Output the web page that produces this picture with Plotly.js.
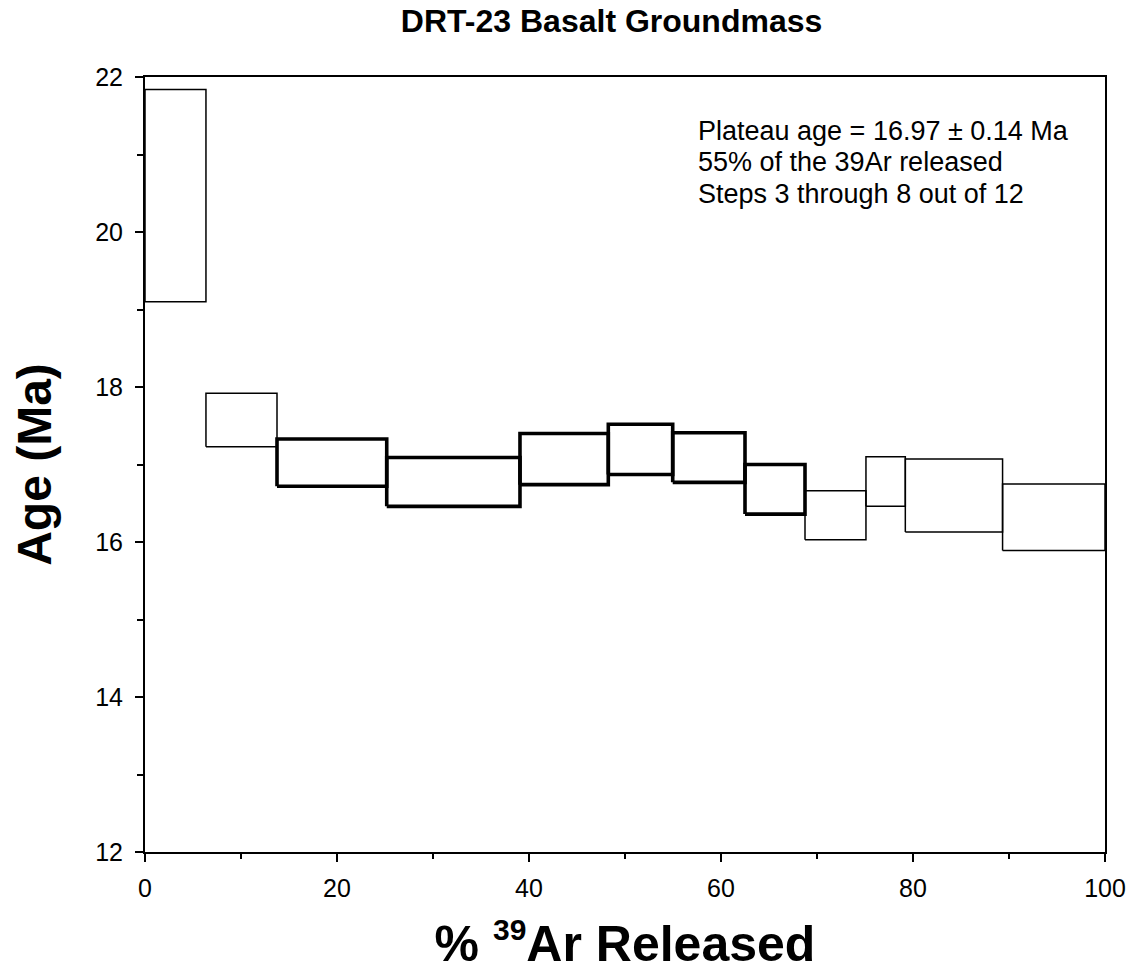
<!DOCTYPE html>
<html>
<head>
<meta charset="utf-8">
<script src="https://cdn.plot.ly/plotly-3.0.1.min.js"></script>
<style>html,body{margin:0;padding:0;background:#fff;}#chart{width:1141px;height:972px;}</style>
</head>
<body>
<div id="chart"></div>
<script>
// Cumulative % 39Ar released at step boundaries
const stepEdges = [0, 6.35, 13.75, 25.18, 39.06, 48.26, 54.97, 62.5, 68.75, 75.1, 79.2, 89.33, 100];
// Age (Ma) upper and lower bounds of each step box
const ageHigh = [21.84, 17.92, 17.33, 17.09, 17.40, 17.52, 17.41, 17.00, 16.66, 17.10, 17.07, 16.75];
const ageLow  = [19.10, 17.23, 16.72, 16.46, 16.74, 16.87, 16.77, 16.36, 16.03, 16.46, 16.13, 15.89];
const plateauSteps = [3, 4, 5, 6, 7, 8];
const xTickVals = [0, 20, 40, 60, 80, 100];
const yTickVals = [12, 14, 16, 18, 20, 22];
const titleText = 'DRT-23 Basalt Groundmass';
const noteLines = ['Plateau age = 16.97 ± 0.14 Ma', '55% of the 39Ar released', 'Steps 3 through 8 out of 12'];

const FONT = 'Liberation Sans, Arial, sans-serif';
const thin = [], bold = [];
for (let i = 0; i < ageHigh.length; i++) {
  const x0 = stepEdges[i], x1 = stepEdges[i + 1];
  const isPlateau = plateauSteps.indexOf(i + 1) >= 0;
  const tr = {
    type: 'scatter', mode: 'lines',
    x: [x0, x0, x1, x1, x0],
    y: [ageLow[i], ageHigh[i], ageHigh[i], ageLow[i], ageLow[i]],
    line: {color: '#000', width: isPlateau ? 3.6 : 1.5},
    hoverinfo: 'skip', showlegend: false
  };
  (isPlateau ? bold : thin).push(tr);
}

// one annotation per line of the note, ~31.5 px apart
const noteTopPx = [131, 162, 194];
const plotTop = 77, plotH = 775;
const annotations = noteLines.map((t, k) => ({
  xref: 'x', yref: 'paper', x: 57.4, y: 1 - (noteTopPx[k] - plotTop) / plotH,
  xanchor: 'left', yanchor: 'middle', align: 'left', showarrow: false,
  text: t, font: {family: FONT, size: 27, color: '#000'}
}));

const layout = {
  width: 1141, height: 972,
  margin: {l: 145, r: 36, t: 77, b: 120, pad: 0},
  paper_bgcolor: '#fff', plot_bgcolor: '#fff',
  font: {family: FONT, color: '#000', size: 25},
  title: {text: '<b>' + titleText + '</b>', font: {family: FONT, size: 32, color: '#000'},
          x: 0.536, xanchor: 'center', y: 0.979, yanchor: 'middle'},
  xaxis: {
    range: [0, 100], tickvals: xTickVals, ticktext: xTickVals.map(String),
    showgrid: false, zeroline: false,
    showline: true, linecolor: '#000', linewidth: 2, mirror: true,
    ticks: 'outside', ticklen: 8, tickwidth: 2, tickcolor: '#000',
    minor: {dtick: 10, tick0: 0, ticks: 'outside', ticklen: 5, tickwidth: 2, tickcolor: '#000', showgrid: false},
    tickfont: {family: FONT, size: 25, color: '#000'},
    ticklabelstandoff: 5,
    title: {text: '<b>% <sup><span style="font-size:30px">39</span></sup>Ar Released</b>', font: {family: FONT, size: 50, color: '#000'}, standoff: 34}
  },
  yaxis: {
    range: [12, 22], tickvals: yTickVals, ticktext: yTickVals.map(String),
    showgrid: false, zeroline: false,
    showline: true, linecolor: '#000', linewidth: 2, mirror: true,
    ticks: 'outside', ticklen: 8, tickwidth: 2, tickcolor: '#000',
    minor: {dtick: 1, tick0: 12, ticks: 'outside', ticklen: 6, tickwidth: 2, tickcolor: '#000', showgrid: false},
    tickfont: {family: FONT, size: 25, color: '#000'},
    ticklabelstandoff: 7,
    title: {text: '<b>Age (Ma)</b>', font: {family: FONT, size: 48, color: '#000'}, standoff: 28}
  },
  annotations: annotations
};

Plotly.newPlot('chart', thin.concat(bold), layout, {staticPlot: true, displayModeBar: false});
</script>
</body>
</html>
